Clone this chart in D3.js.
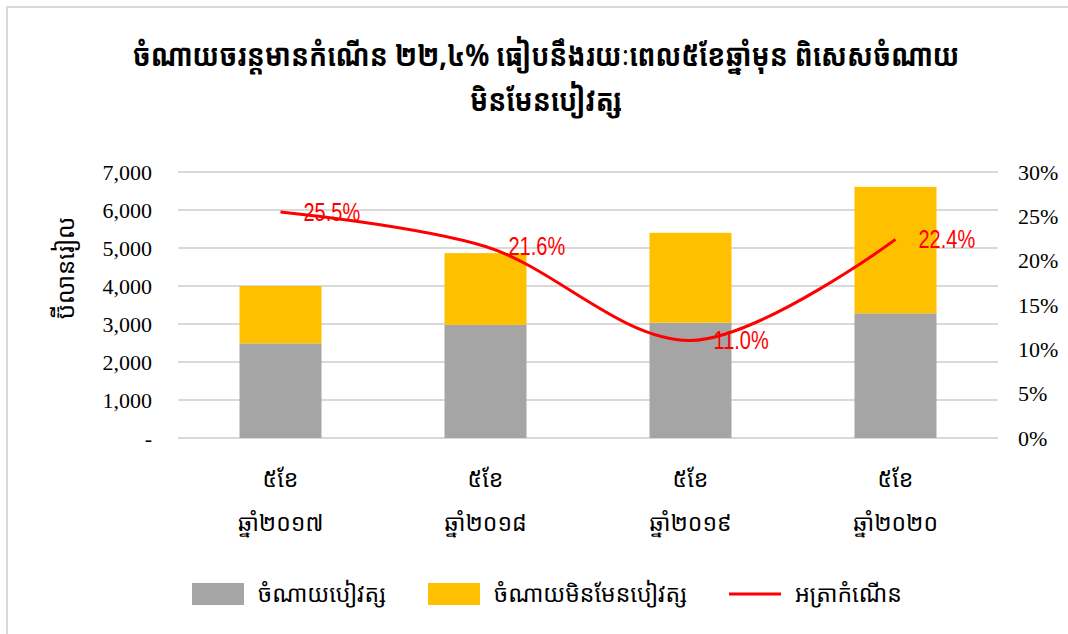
<!DOCTYPE html>
<html>
<head>
<meta charset="utf-8">
<script src="https://cdn.jsdelivr.net/npm/d3@7"></script>
<style>
  body { margin: 0; background: #fff; }
  svg { display: block; }
</style>
</head>
<body>
<div id="chart"></div>
<script>
// data
const categoriesTop = ["៥ខែ", "៥ខែ", "៥ខែ", "៥ខែ"]
const categoriesBottom = ["ឆ្នាំ២០១៧", "ឆ្នាំ២០១៨", "ឆ្នាំ២០១៩", "ឆ្នាំ២០២០"]
const salary = [2490, 2980, 3035, 3280]
const nonSalary = [1510, 1885, 2365, 3330]
const growth = [25.5, 21.6, 11.0, 22.4]
const leftTicks = [0, 1000, 2000, 3000, 4000, 5000, 6000, 7000]
const rightTicks = [0, 5, 10, 15, 20, 25, 30]
const titleLines = ["ចំណាយចរន្តមានកំណើន ២២,៤% ធៀបនឹងរយៈពេល៥ខែឆ្នាំមុន ពិសេសចំណាយ", "មិនមែនបៀវត្ស"]
const legendItems = ["ចំណាយបៀវត្ស", "ចំណាយមិនមែនបៀវត្ស", "អត្រាកំណើន"]

const KHMER = "'Khmer OS Battambang', 'Noto Sans Khmer', 'Noto Serif Khmer', 'Khmer OS', sans-serif"
const SERIF = "'Liberation Serif', 'Times New Roman', serif"
const SANS = "'Liberation Sans', Arial, sans-serif"

const W = 1068, H = 634
const plot = { left: 178, right: 998, top: 172, bottom: 438 }

const svg = d3.select("#chart").append("svg")
    .attr("width", W)
    .attr("height", H)

// frame
svg.append("rect")
    .attr("x", 7).attr("y", 7)
    .attr("width", W).attr("height", H)
    .attr("fill", "none")
    .attr("stroke", "#d9d9d9")
    .attr("stroke-width", 2)

const idx = d3.range(categoriesTop.length)

const x = d3.scaleBand()
    .domain(idx)
    .range([plot.left, plot.right])
    .paddingInner(0.6)
    .paddingOuter(0.3)

const y = d3.scaleLinear().domain([0, 7000]).range([plot.bottom, plot.top])
const y2 = d3.scaleLinear().domain([0, 30]).range([plot.bottom, plot.top])

// gridlines
svg.append("g")
    .selectAll("line")
    .data(leftTicks)
    .join("line")
    .attr("x1", plot.left).attr("x2", plot.right)
    .attr("y1", d => y(d)).attr("y2", d => y(d))
    .attr("stroke", "#d9d9d9")
    .attr("stroke-width", 2)

// left axis labels
const fmt = d3.format(",")
svg.append("g")
    .selectAll("text")
    .data(leftTicks)
    .join("text")
    .attr("x", 152)
    .attr("y", d => y(d))
    .attr("dy", "0.35em")
    .attr("text-anchor", "end")
    .style("font-family", SERIF)
    .style("font-size", "22px")
    .attr("fill", "#000")
    .text(d => d === 0 ? "-" : fmt(d))

// right axis labels
svg.append("g")
    .selectAll("text")
    .data(rightTicks)
    .join("text")
    .attr("x", 1018)
    .attr("y", d => y2(d))
    .attr("dy", "0.35em")
    .attr("text-anchor", "start")
    .style("font-family", SERIF)
    .style("font-size", "22px")
    .attr("fill", "#000")
    .text(d => d + "%")

// bars
const bars = svg.append("g")
bars.selectAll(".sal")
    .data(idx)
    .join("rect")
    .attr("x", i => x(i))
    .attr("width", x.bandwidth())
    .attr("y", i => y(salary[i]))
    .attr("height", i => y(0) - y(salary[i]))
    .attr("fill", "#a5a5a5")

bars.selectAll(".non")
    .data(idx)
    .join("rect")
    .attr("x", i => x(i))
    .attr("width", x.bandwidth())
    .attr("y", i => y(salary[i] + nonSalary[i]))
    .attr("height", i => y(salary[i]) - y(salary[i] + nonSalary[i]))
    .attr("fill", "#ffc000")

// growth line
const cx = i => x(i) + x.bandwidth() / 2
const line = d3.line()
    .x(i => cx(i))
    .y(i => y2(growth[i]))
    .curve(d3.curveCatmullRom.alpha(0.5))

svg.append("path")
    .datum(idx)
    .attr("d", line)
    .attr("fill", "none")
    .attr("stroke", "#ff0000")
    .attr("stroke-width", 3)

// labels: condensed look via horizontal squeeze
svg.append("g")
    .selectAll("text")
    .data(idx)
    .join("text")
    .attr("transform", i => `translate(${cx(i) + 23},${y2(growth[i])}) scale(0.8,1)`)
    .attr("dy", "0.35em")
    .style("font-family", SANS)
    .style("font-size", "25px")
    .attr("fill", "#ff0000")
    .text(i => growth[i].toFixed(1) + "%")

// category labels
svg.append("g")
    .selectAll("text")
    .data(idx)
    .join("text")
    .attr("x", i => cx(i))
    .attr("y", 487)
    .attr("text-anchor", "middle")
    .style("font-family", KHMER)
    .style("font-size", "23px")
    .text(i => categoriesTop[i])

svg.append("g")
    .selectAll("text")
    .data(idx)
    .join("text")
    .attr("x", i => cx(i))
    .attr("y", 531)
    .attr("text-anchor", "middle")
    .style("font-family", KHMER)
    .style("font-size", "23px")
    .text(i => categoriesBottom[i])

// y axis title
svg.append("text")
    .attr("transform", "translate(74,268) rotate(-90)")
    .attr("text-anchor", "middle")
    .style("font-family", KHMER)
    .style("font-size", "24px")
    .text("ប៊ីលានរៀល")

// title
svg.append("g")
    .selectAll("text")
    .data(titleLines)
    .join("text")
    .attr("transform", (d, i) => `translate(546,${66 + i * 45}) scale(0.86,1)`)
    .attr("text-anchor", "middle")
    .style("font-family", KHMER)
    .style("font-size", "31px")
    .style("font-weight", "bold")
    .text(d => d)

// legend
const legendX = [192, 428, 729]
const legend = svg.append("g")
legendItems.forEach((name, i) => {
    const g = legend.append("g").attr("transform", `translate(${legendX[i]},594)`)
    if (i < 2) {
        g.append("rect")
            .attr("x", 0).attr("y", -11)
            .attr("width", 52).attr("height", 22)
            .attr("fill", i === 0 ? "#a5a5a5" : "#ffc000")
    } else {
        g.append("line")
            .attr("x1", 0).attr("x2", 52)
            .attr("y1", 0).attr("y2", 0)
            .attr("stroke", "#ff0000")
            .attr("stroke-width", 3)
    }
    g.append("text")
        .attr("x", 66)
        .attr("y", 0)
        .attr("dy", "0.35em")
        .style("font-family", KHMER)
        .style("font-size", "23px")
        .text(name)
})
</script>
</body>
</html>
